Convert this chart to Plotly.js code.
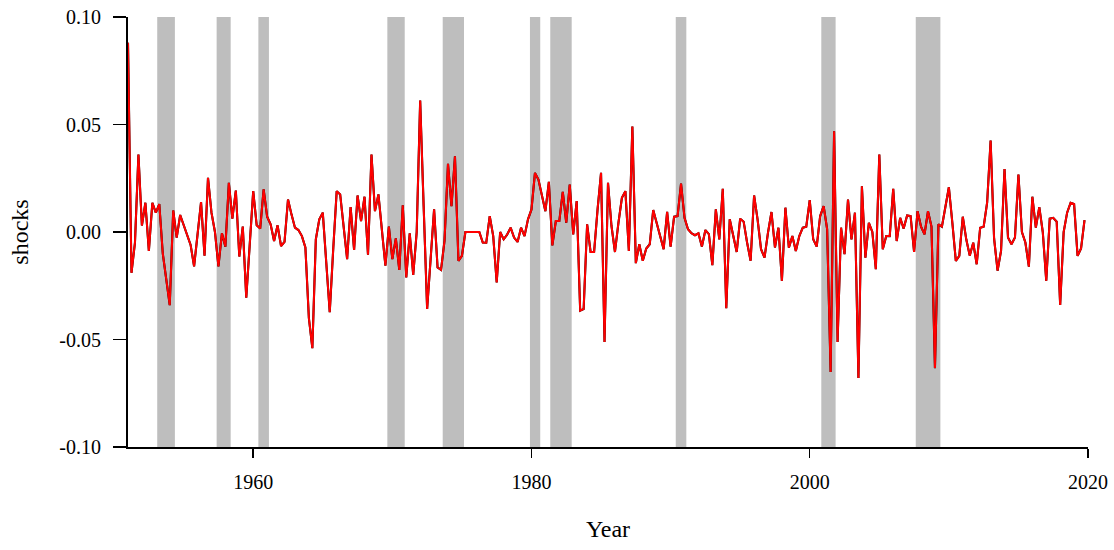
<!DOCTYPE html>
<html>
<head>
<meta charset="utf-8">
<script src="https://cdn.plot.ly/plotly-3.0.1.min.js"></script>
<style>html,body{margin:0;padding:0;background:#fff;}#chart{width:1114px;height:550px;}</style>
</head>
<body>
<div id="chart"></div>
<script>
// Quarterly shocks, 1951Q1 onward
const startYear = 1951;
const shocks1950s = [0.088, -0.019, -0.005, 0.036, 0.003, 0.0136, -0.0088, 0.0136, 0.009, 0.013, -0.010, -0.022,
  -0.034, 0.010, -0.0026, 0.0079, 0.003, -0.001, -0.006, -0.016, -0.002, 0.0139, -0.011, 0.0252,
  0.009, 0.0, -0.016, -0.0006, -0.0068, 0.0229, 0.0062, 0.0193, -0.0114, 0.0025, -0.0305, -0.008];
const shocks1960s = [0.019, 0.0031, 0.0016, 0.0198, 0.0071, 0.0036, -0.0042, 0.0031, -0.0065, -0.0046,
  0.0151, 0.0082, 0.002, 0.0009, -0.0019, -0.0072, -0.040, -0.054, -0.0034, 0.0059,
  0.009, -0.0142, -0.0373, -0.008, 0.019, 0.0175, 0.0028, -0.0126, 0.0116, -0.0083,
  0.017, 0.0051, 0.0164, -0.0106, 0.036, 0.0097, 0.0175, 0.0013, -0.0157, 0.0025];
const shocks1970s = [-0.0126, -0.003, -0.0176, 0.0124, -0.0211, -0.0006, -0.020, 0.0, 0.0611, 0.012,
  -0.0358, -0.0126, 0.0105, -0.0165, -0.0176, -0.004, 0.0317, 0.012, 0.0352, -0.0134,
  -0.0111, 0.0, 0.0, 0.0, 0.0, 0.0, -0.0049, -0.005, 0.0074, -0.0019,
  -0.0234, 0.0, -0.0034, -0.0012, 0.002, -0.0026, -0.0046, 0.002, -0.0019, 0.0059];
const shocks1980s = [0.0105, 0.0275, 0.0244, 0.0175, 0.0097, 0.0233, -0.0062, 0.0051, 0.0051, 0.0187,
  0.0043, 0.0221, -0.0011, 0.0144, -0.0366, -0.0358, 0.0036, -0.0093, -0.0093, 0.0105,
  0.0275, -0.0512, 0.0229, 0.0028, -0.0093, 0.0043, 0.0159, 0.019, -0.0088, 0.0491,
  -0.0145, -0.0057, -0.0134, -0.0077, -0.0057, 0.0102, 0.0043, -0.0019, -0.008, 0.0094];
const shocks1990s = [-0.0068, 0.0071, 0.0074, 0.0225, 0.0066, 0.0013, -0.0006, -0.0015, -0.0006, -0.0068,
  0.0009, -0.001, -0.0154, 0.0105, -0.0034, 0.0201, -0.0355, 0.0059, -0.0019, -0.0093,
  0.0062, 0.0048, -0.005, -0.0134, 0.017, 0.0059, -0.008, -0.0119, -0.0003, 0.0093,
  -0.0072, 0.002, -0.0227, 0.0113, -0.0073, -0.0019, -0.0088, -0.0019, 0.002, 0.0025];
const shocks2000s = [0.0148, -0.0034, -0.0068, 0.0074, 0.012, 0.0013, -0.0651, 0.0468, -0.0512, 0.002,
  -0.0103, 0.0151, -0.0034, 0.009, -0.0679, 0.0213, -0.0119, 0.0043, 0.0, -0.0173,
  0.036, -0.008, -0.0019, -0.0019, 0.0201, -0.0042, 0.0066, 0.0016, 0.0077, 0.0074,
  -0.0093, 0.0097, 0.0025, -0.0011, 0.0097, 0.0025, -0.0633, 0.0036, 0.0025, 0.0116];
const shocks2010s = [0.0208, 0.0043, -0.0134, -0.0111, 0.0071, -0.0034, -0.011, -0.005, -0.015, 0.002,
  0.0025, 0.0136, 0.0425, -0.003, -0.018, -0.0088, 0.0293, -0.0026, -0.0057, -0.0026,
  0.0267, 0.0, -0.0049, -0.0161, 0.0164, 0.002, 0.0116, 0.0, -0.0227, 0.0062,
  0.0066, 0.0048, -0.0339, 0.0, 0.009, 0.0136, 0.013, -0.0111, -0.0077, 0.0055];

// Recession shading (start, end in fractional years)
const recStart = [1953.10, 1957.37, 1960.37, 1969.64, 1973.62, 1979.89, 1981.35, 1990.37, 2000.83, 2007.62];
const recEnd   = [1954.37, 1958.38, 1961.13, 1970.89, 1975.15, 1980.63, 1982.89, 1991.13, 2001.86, 2009.39];

const yTickVals = [-0.10, -0.05, 0.00, 0.05, 0.10];
const yTickText = ['-0.10', '-0.05', '0.00', '0.05', '0.10'];
const xTickVals = [1960, 1980, 2000, 2020];

const shocks = [].concat(shocks1950s, shocks1960s, shocks1970s, shocks1980s, shocks1990s, shocks2000s, shocks2010s);
const dates = shocks.map((_, i) => startYear + i / 4);

const font = "'Liberation Serif', 'Times New Roman', serif";

const shapes = recStart.map((s, i) => ({
  type: 'rect', xref: 'x', yref: 'y', x0: s, x1: recEnd[i], y0: -0.1, y1: 0.1,
  fillcolor: '#BEBEBE', line: {width: 0}, layer: 'below'
}));

const traces = [
  {x: dates, y: shocks, type: 'scatter', mode: 'lines', line: {color: '#000000', width: 2.1}, hoverinfo: 'skip', showlegend: false},
  {x: dates, y: shocks, type: 'scatter', mode: 'lines', line: {color: '#FF0000', width: 2}, showlegend: false}
];

const layout = {
  width: 1114, height: 550,
  margin: {l: 128, r: 26, t: 17, b: 103},
  paper_bgcolor: '#ffffff', plot_bgcolor: '#ffffff',
  font: {family: font, color: '#000000', size: 20},
  showlegend: false,
  shapes: shapes,
  xaxis: {
    range: [1951, 2020], tickvals: xTickVals, ticktext: xTickVals.map(String),
    ticks: 'outside', ticklen: 9, tickwidth: 1.5, tickcolor: '#000',
    showline: true, linewidth: 2, linecolor: '#000', mirror: false,
    showgrid: false, zeroline: false,
    tickfont: {family: font, size: 20, color: '#000'},
    ticklabelstandoff: 7,
    title: {text: 'Year', font: {family: font, size: 24, color: '#000'}, standoff: 28}
  },
  yaxis: {
    range: [-0.1, 0.1], tickvals: yTickVals, ticktext: yTickText,
    ticks: 'outside', ticklen: 13, tickwidth: 1.5, tickcolor: '#000',
    showline: true, linewidth: 2, linecolor: '#000',
    showgrid: false, zeroline: false,
    tickfont: {family: font, size: 20, color: '#000'},
    ticklabelstandoff: 8,
    title: {text: 'shocks', font: {family: font, size: 24, color: '#000'}, standoff: 24}
  }
};

Plotly.newPlot('chart', traces, layout, {displayModeBar: false, staticPlot: true});
</script>
</body>
</html>
